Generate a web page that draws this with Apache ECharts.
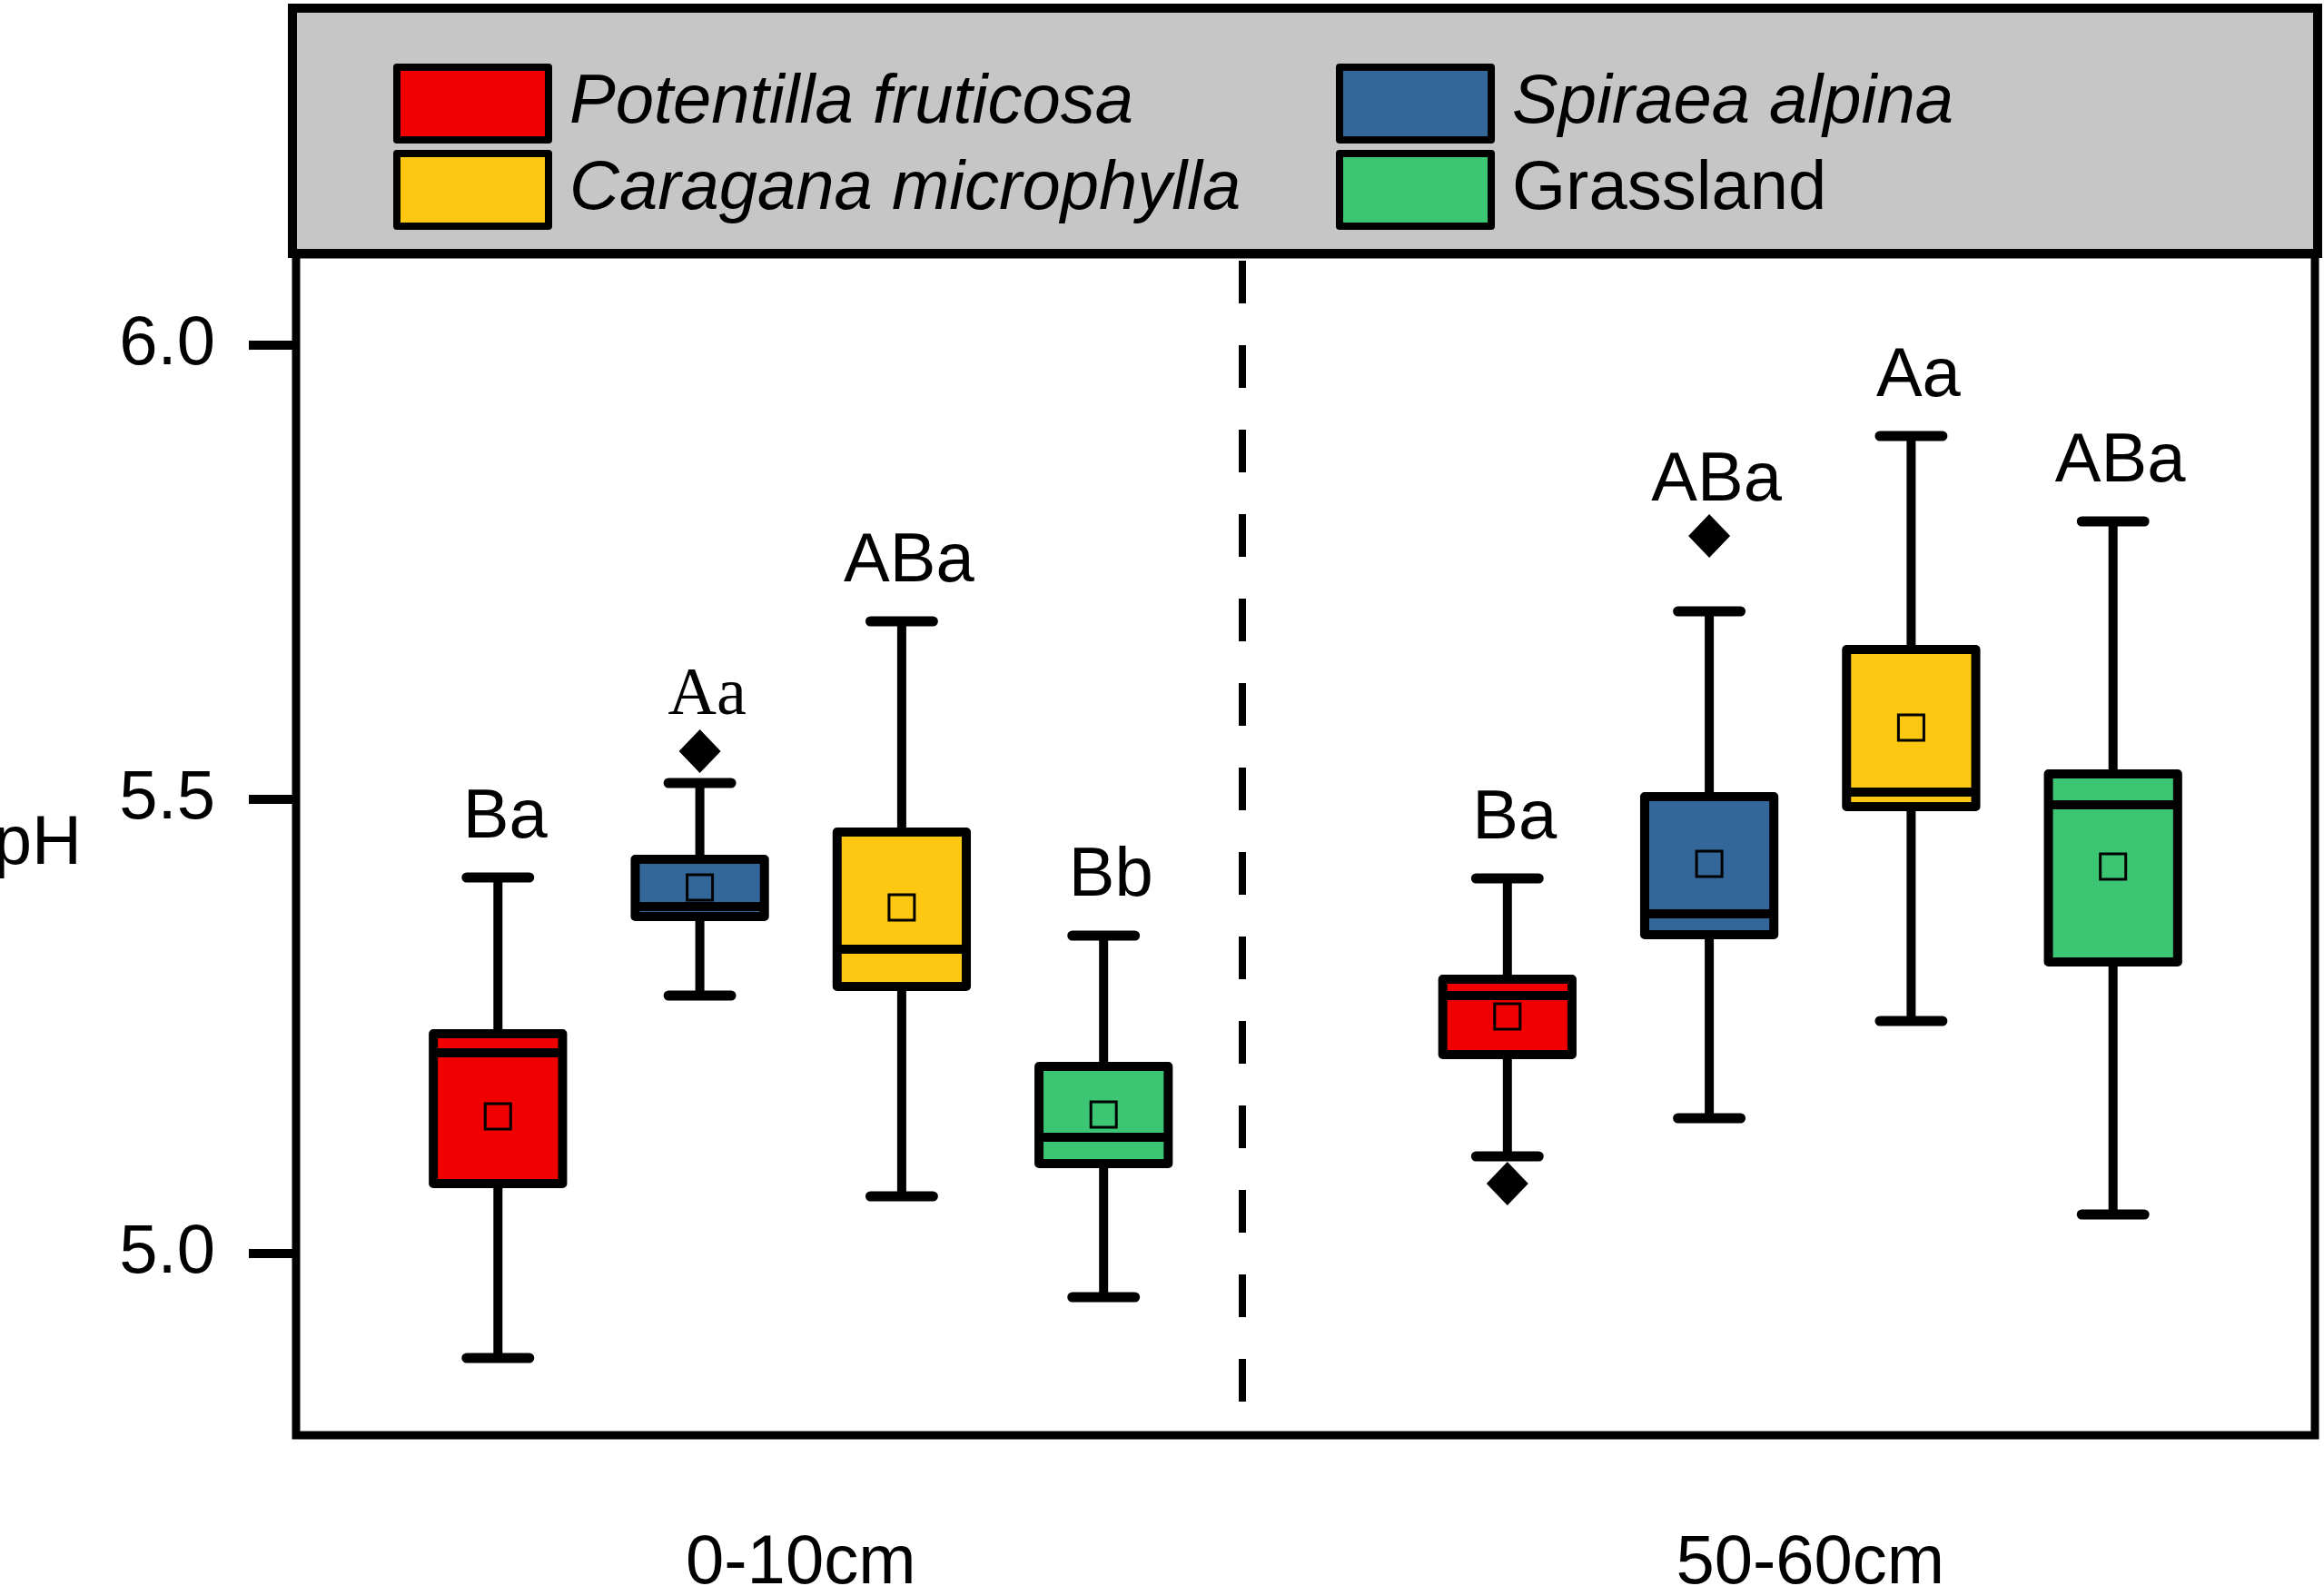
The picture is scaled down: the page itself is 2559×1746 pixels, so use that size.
<!DOCTYPE html>
<html>
<head>
<meta charset="utf-8">
<script src="https://cdn.jsdelivr.net/npm/echarts@6/dist/echarts.min.js"></script>
<style>
  html, body { margin: 0; padding: 0; background: #fff; }
  #chart { width: 2559px; height: 1746px; }
</style>
</head>
<body>
<div id="chart"></div>
<script>
// soil depths and vegetation types
const depths = ['0-10cm', '50-60cm'];
const species = ['Potentilla fruticosa', 'Spiraea alpina', 'Caragana microphylla', 'Grassland'];
const colors = ['#f00000', '#336699', '#fec712', '#3cc674'];

// [lower whisker, Q1, median, Q3, upper whisker] for 0-10cm and 50-60cm
const potentillaBox = [[4.885, 5.077, 5.221, 5.242, 5.414], [5.107, 5.219, 5.284, 5.302, 5.413]];
const spiraeaBox = [[5.284, 5.371, 5.382, 5.434, 5.518], [5.149, 5.351, 5.374, 5.503, 5.707]];
const caraganaBox = [[5.063, 5.294, 5.335, 5.464, 5.696], [5.256, 5.492, 5.508, 5.665, 5.900]];
const grasslandBox = [[4.952, 5.099, 5.128, 5.206, 5.350], [5.043, 5.321, 5.494, 5.528, 5.806]];

const potentillaMean = [5.151, 5.261];
const spiraeaMean = [5.403, 5.429];
const caraganaMean = [5.381, 5.579];
const grasslandMean = [5.153, 5.426];

const potentillaOutliers = [null, 5.077];
const spiraeaOutliers = [5.553, 5.790];
const caraganaOutliers = [null, null];
const grasslandOutliers = [null, null];

const potentillaLetters = ['Ba', 'Ba'];
const spiraeaLetters = ['Aa', 'ABa'];
const caraganaLetters = ['ABa', 'Aa'];
const grasslandLetters = ['Bb', 'ABa'];

const phTicks = [5.0, 5.5, 6.0];

const boxes = [potentillaBox, spiraeaBox, caraganaBox, grasslandBox];
const means = [potentillaMean, spiraeaMean, caraganaMean, grasslandMean];
const outliers = [potentillaOutliers, spiraeaOutliers, caraganaOutliers, grasslandOutliers];
const letters = [potentillaLetters, spiraeaLetters, caraganaLetters, grasslandLetters];

// each depth takes 5 slots on the hidden x axis, boxes sit on slots 1..4
const slotX = (d, s) => d * 5 + 1 + s;
const dividerX = 4.687;

const FONT = '"Liberation Sans", Arial, sans-serif';

function renderBox(params, api) {
  const s = params.seriesIndex;
  const d = params.dataIndex;
  const x = api.value(0);
  const lo = api.coord([x, api.value(1)]);
  const q1 = api.coord([x, api.value(2)]);
  const med = api.coord([x, api.value(3)]);
  const q3 = api.coord([x, api.value(4)]);
  const hi = api.coord([x, api.value(5)]);
  const mn = api.coord([x, api.value(6)]);
  const unit = api.size([1, 0])[0];
  const bw = unit * 0.64;
  const cw = unit * 0.31;
  const cx = lo[0];
  const color = api.visual('color');
  const line = { stroke: '#000', lineWidth: 10 };
  const cap = { stroke: '#000', lineWidth: 11, lineCap: 'round' };

  let topY = hi[1] - 65;
  const out = outliers[s][d];
  if (out != null && out > api.value(5)) topY = api.coord([x, out])[1] - 60;
  const serif = s === 1 && d === 0;

  return {
    type: 'group',
    children: [
      { type: 'line', shape: { x1: cx, y1: hi[1], x2: cx, y2: q3[1] }, style: line },
      { type: 'line', shape: { x1: cx, y1: q1[1], x2: cx, y2: lo[1] }, style: line },
      { type: 'line', shape: { x1: cx - cw / 2, y1: hi[1], x2: cx + cw / 2, y2: hi[1] }, style: cap },
      { type: 'line', shape: { x1: cx - cw / 2, y1: lo[1], x2: cx + cw / 2, y2: lo[1] }, style: cap },
      {
        type: 'rect',
        shape: { x: cx - bw / 2, y: q3[1], width: bw, height: q1[1] - q3[1] },
        style: { fill: color, stroke: '#000', lineWidth: 10, lineJoin: 'round' }
      },
      { type: 'line', shape: { x1: cx - bw / 2, y1: med[1], x2: cx + bw / 2, y2: med[1] }, style: { stroke: '#000', lineWidth: 10 } },
      {
        type: 'rect',
        shape: { x: cx - 14, y: mn[1] - 14, width: 28, height: 28 },
        style: { fill: color, stroke: '#000', lineWidth: 3 }
      },
      {
        type: 'text',
        x: cx + 8,
        y: topY,
        style: {
          text: letters[s][d],
          fill: '#000',
          fontSize: serif ? 74 : 76,
          fontFamily: serif ? '"Liberation Serif", "Times New Roman", serif' : FONT,
          align: 'center',
          verticalAlign: 'middle'
        }
      }
    ]
  };
}

const boxSeries = species.map((name, s) => ({
  name: name,
  type: 'custom',
  xAxisIndex: 1,
  itemStyle: { color: colors[s] },
  renderItem: renderBox,
  encode: { x: 0, y: [1, 2, 3, 4, 5] },
  data: depths.map((dep, d) => [slotX(d, s)].concat(boxes[s][d], [means[s][d]])),
  z: 3
}));

const outlierData = [];
outliers.forEach((arr, s) => arr.forEach((v, d) => {
  if (v != null) outlierData.push([slotX(d, s), v]);
}));

const chart = echarts.init(document.getElementById('chart'));
chart.setOption({
  backgroundColor: '#fff',
  animation: false,
  graphic: [{
    type: 'rect',
    z: 0,
    shape: { x: 322, y: 9, width: 2230, height: 270 },
    style: { fill: '#c6c6c6', stroke: '#000', lineWidth: 10 }
  }],
  legend: {
    z: 10,
    left: 433,
    top: 70,
    width: 2100,
    padding: 0,
    itemGap: 7,
    itemWidth: 167,
    itemHeight: 80,
    icon: 'rect',
    selectedMode: false,
    itemStyle: { borderColor: '#000', borderWidth: 8, borderJoin: 'round' },
    textStyle: {
      fontSize: 76,
      fontFamily: FONT,
      fontStyle: 'italic',
      color: '#000',
      width: 837,
      lineHeight: 80,
      padding: [0, 0, 0, 18]
    },
    data: species.map(n => n === 'Grassland' ? { name: n, textStyle: { fontStyle: 'normal' } } : n)
  },
  grid: {
    left: 326,
    right: 10,
    top: 280,
    bottom: 166,
    show: true,
    borderColor: '#000',
    borderWidth: 9,
    containLabel: false,
    outerBoundsMode: 'none'
  },
  xAxis: [{
    type: 'category',
    data: depths,
    axisLine: { show: false },
    axisTick: { alignWithLabel: true, length: 50, lineStyle: { color: '#000', width: 7 } },
    axisLabel: { fontSize: 76, fontFamily: FONT, color: '#000', margin: 104 },
    splitLine: { show: false }
  }, {
    type: 'value',
    show: false,
    min: 0,
    max: 10
  }],
  yAxis: {
    type: 'value',
    min: 4.8,
    max: 6.1,
    name: 'pH',
    nameLocation: 'middle',
    nameRotate: 0,
    nameGap: 236,
    nameTextStyle: { fontSize: 76, fontFamily: FONT, color: '#000' },
    axisLine: { show: false },
    axisTick: { show: true, customValues: phTicks, length: 52, lineStyle: { color: '#000', width: 10 } },
    axisLabel: {
      customValues: phTicks,
      fontSize: 76,
      fontFamily: FONT,
      color: '#000',
      margin: 89,
      formatter: v => v.toFixed(1)
    },
    splitLine: { show: false }
  },
  series: boxSeries.concat([{
    name: 'outliers',
    type: 'scatter',
    xAxisIndex: 1,
    symbol: 'diamond',
    symbolSize: [46, 48],
    itemStyle: { color: '#000', opacity: 1 },
    data: outlierData,
    z: 4,
    markLine: {
      silent: true,
      symbol: ['none', 'none'],
      label: { show: false },
      lineStyle: { color: '#000', width: 8, type: [47, 46] },
      data: [[{ coord: [dividerX, 6.093] }, { coord: [dividerX, 4.837] }]]
    }
  }])
});
</script>
</body>
</html>
